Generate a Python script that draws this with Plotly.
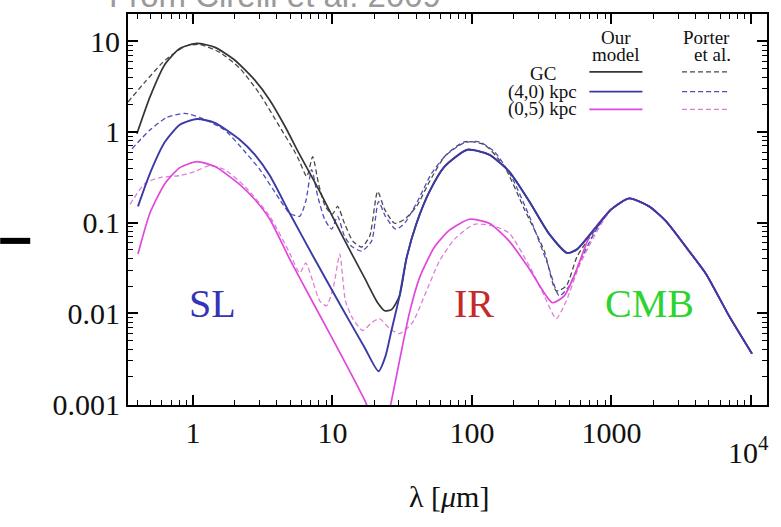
import plotly.graph_objects as go

# ---- wavelength grids (micron) and energy densities, model curves ----
gc_model_lam = [0.397, 0.492, 0.631, 0.807, 1.07, 1.44, 2.0, 2.78, 3.56, 4.55, 5.83, 8.11, 11.8, 17.0, 21.1, 23.7, 26.5, 30.3]
gc_model_val = [0.953, 2.42, 5.57, 8.34, 9.46, 8.55, 6.17, 3.72, 2.24, 1.17, 0.561, 0.221, 0.071, 0.0246, 0.0131, 0.0107, 0.011, 0.0156]

r40_model_lam = [0.404, 0.492, 0.631, 0.807, 1.07, 1.44, 2.17, 2.78, 3.56, 4.94, 7.46, 11.8, 17.0, 21.4, 24.0, 26.5, 30.3]
r40_model_val = [0.151, 0.348, 0.779, 1.20, 1.39, 1.26, 0.82, 0.561, 0.330, 0.127, 0.0397, 0.01126, 0.00421, 0.0023, 0.00336, 0.00646, 0.0156]

# infrared bump shared by the GC and (4,0) model curves
ir_model_lam = [34.0, 40.1, 49.7, 63.6, 92.9, 133, 185, 258, 359, 483, 569, 753]
ir_model_val = [0.0408, 0.0985, 0.221, 0.415, 0.637, 0.561, 0.366, 0.171, 0.0746, 0.0462, 0.0511, 0.0847]

z05_model_lam = [0.404, 0.492, 0.631, 0.807, 1.07, 1.44, 2.17, 2.78, 3.56, 4.94, 7.46, 11.8, 17.0, 20.1, 22.9, 25.7, 30.3, 35.7, 42.1, 53.9, 69.0, 96.0, 133, 185, 258, 377, 459, 541, 693, 753]
z05_model_val = [0.0451, 0.127, 0.270, 0.404, 0.470, 0.415, 0.263, 0.180, 0.109, 0.0397, 0.01214, 0.00327, 0.00111, 0.00059, 0.000403, 0.00086, 0.00303, 0.01018, 0.0246, 0.0538, 0.0826, 0.109, 0.0985, 0.0626, 0.0309, 0.0131, 0.0156, 0.0259, 0.07, 0.0847]

# ---- Porter et al. curves ----
gc_porter_lam = [0.343, 0.453, 0.631, 0.877, 1.12, 1.56, 2.17, 3.02, 4.19, 5.37, 5.83, 6.55, 7.22, 7.98, 8.9, 10.0, 10.9, 12.2, 14.0, 16.2, 18.5, 21.1, 23.7, 27.9, 32.9, 40.1, 49.7, 63.6, 88.4, 123, 171, 238, 330, 402, 475, 569, 753]
gc_porter_val = [2.14, 3.54, 6.17, 8.77, 9.22, 7.54, 5.03, 2.61, 1.14, 0.605, 0.470, 0.322, 0.534, 0.263, 0.151, 0.124, 0.151, 0.0985, 0.0626, 0.0538, 0.071, 0.221, 0.140, 0.0985, 0.109, 0.151, 0.284, 0.534, 0.779, 0.722, 0.415, 0.14, 0.0486, 0.0177, 0.0201, 0.0428, 0.0805]

r40_porter_lam = [0.366, 0.492, 0.652, 0.877, 1.12, 1.69, 2.36, 3.02, 4.19, 4.94, 5.83, 6.44, 7.1, 7.85, 8.8, 9.88, 10.9, 12.2, 13.7, 16.2, 19.1, 21.4, 24.0, 28.4, 32.9, 40.7, 51.3, 65.7, 88.4, 113, 145, 192, 258, 347, 423, 499, 588, 753]
r40_porter_val = [0.653, 1.05, 1.45, 1.60, 1.45, 1.05, 0.605, 0.385, 0.180, 0.127, 0.1175, 0.171, 0.385, 0.195, 0.109, 0.0847, 0.1175, 0.071, 0.0551, 0.0486, 0.0626, 0.171, 0.1175, 0.0847, 0.0985, 0.171, 0.348, 0.561, 0.760, 0.779, 0.605, 0.322, 0.1175, 0.0359, 0.0156, 0.0201, 0.0359, 0.0768]

z05_porter_lam = [0.354, 0.453, 0.581, 0.807, 1.03, 1.32, 1.69, 2.36, 3.56, 4.94, 5.83, 6.44, 7.22, 8.11, 9.1, 10.2, 11.3, 12.4, 14.0, 16.5, 19.1, 21.8, 25.7, 30.3, 37.5, 45.7, 58.5, 75.0, 104, 145, 185, 258, 330, 402, 475, 588, 753]
z05_porter_val = [0.159, 0.270, 0.314, 0.330, 0.366, 0.425, 0.385, 0.250, 0.1175, 0.0462, 0.0279, 0.0359, 0.0228, 0.01377, 0.01214, 0.0201, 0.0451, 0.01377, 0.00875, 0.00646, 0.00791, 0.00875, 0.0068, 0.00599, 0.00791, 0.0156, 0.0378, 0.0658, 0.096, 0.0913, 0.0766, 0.0333, 0.0156, 0.00875, 0.01377, 0.0333, 0.071]

# CMB black-body tail common to every curve
cmb_lam = [996, 1340, 1863, 2466, 3601, 4764, 6961, 10170]
cmb_val = [0.140, 0.185, 0.151, 0.1035, 0.0486, 0.0272, 0.0094, 0.0036]

x_ticks = [1, 10, 100, 1000, 10000]
x_ticktext = ["1", "10", "100", "1000", ""]
y_ticks = [0.001, 0.01, 0.1, 1, 10]
y_ticktext = ["0.001", "0.01", "0.1", "1", "10"]

SERIF = "Liberation Serif"

series = [
    # name, lam, val, colour, dash, width
    ("GC, Porter", gc_porter_lam + cmb_lam, gc_porter_val + cmb_val, "#4a4a4a", "5px,3px", 1.3),
    ("(4,0), Porter", r40_porter_lam + cmb_lam, r40_porter_val + cmb_val, "#4d4dbb", "5px,3px", 1.3),
    ("(0,5), Porter", z05_porter_lam + cmb_lam, z05_porter_val + cmb_val, "#dc80d6", "5px,3px", 1.3),
    ("GC, model", gc_model_lam + ir_model_lam + cmb_lam, gc_model_val + ir_model_val + cmb_val, "#353535", "solid", 1.7),
    ("(0,5), model", z05_model_lam + cmb_lam, z05_model_val + cmb_val, "#e048dc", "solid", 1.7),
    ("(4,0), model", r40_model_lam + ir_model_lam + cmb_lam, r40_model_val + ir_model_val + cmb_val, "#3a3aa6", "solid", 1.9),
]

fig = go.Figure()
for name, lam, val, col, dash, w in series:
    fig.add_trace(go.Scatter(
        x=lam, y=val, mode="lines", name=name, showlegend=False,
        line=dict(color=col, dash=dash, width=w, shape="spline", smoothing=0.6),
    ))

minor_x = [m * 10 ** e for e in range(-1, 5) for m in range(2, 10)]
minor_y = [m * 10 ** e for e in range(-3, 2) for m in range(2, 10)]

axis_common = dict(
    type="log", showline=True, linecolor="black", linewidth=2, mirror="allticks",
    ticks="inside", ticklen=10, tickwidth=1.5, tickcolor="black",
    showgrid=False, zeroline=False,
    tickfont=dict(family=SERIF, size=30, color="#111"),
)

fig.update_layout(
    width=781, height=527,
    margin=dict(l=128, r=13, t=12, b=122),
    paper_bgcolor="white", plot_bgcolor="white",
    xaxis=dict(axis_common, range=[-0.465, 4.115], tickmode="array",
               tickvals=x_ticks, ticktext=x_ticktext,
               minor=dict(tickmode="array", tickvals=minor_x, ticks="inside",
                          ticklen=5, tickwidth=1, tickcolor="black")),
    yaxis=dict(axis_common, range=[-3.01, 1.30], tickmode="array",
               tickvals=y_ticks, ticktext=y_ticktext,
               minor=dict(tickmode="array", tickvals=minor_y, ticks="inside",
                          ticklen=5, tickwidth=1, tickcolor="black")),
)

ann = []
# region labels
ann.append(dict(x=0.143, y=-1.894, xref="x", yref="y", text="SL",
                font=dict(family=SERIF, size=40, color="#3434b4")))
ann.append(dict(x=2.018, y=-1.894, xref="x", yref="y", text="IR",
                font=dict(family=SERIF, size=40, color="#c42a2a")))
ann.append(dict(x=3.27, y=-1.894, xref="x", yref="y", text="CMB",
                font=dict(family=SERIF, size=40, color="#2ed42e")))
# 10^4 tick label, set lower than the others
ann.append(dict(x=4, y=-0.114, xref="x", yref="paper", xshift=-2, text="10<sup>4</sup>",
                font=dict(family=SERIF, size=30, color="#111")))
# axis title
ann.append(dict(x=0.502, y=-0.234, xref="paper", yref="paper", text="λ [<i>μ</i>m]",
                font=dict(family=SERIF, size=30, color="#111")))

# legend table
lf = dict(family=SERIF, size=19, color="#111")
ann += [
    dict(x=0.764, y=0.941, text="Our", font=lf),
    dict(x=0.764, y=0.896, text="model", font=lf),
    dict(x=0.905, y=0.941, text="Porter", font=lf),
    dict(x=0.914, y=0.896, text="et al.", font=lf),
    dict(x=0.650, y=0.847, text="GC", font=lf),
    dict(x=0.706, y=0.800, text="(4,0) kpc", font=lf, xanchor="right"),
    dict(x=0.706, y=0.757, text="(0,5) kpc", font=lf, xanchor="right"),
]
for a in ann:
    a.setdefault("xref", "paper")
    a.setdefault("yref", "paper")
    a.setdefault("xanchor", "center")
    a.setdefault("yanchor", "middle")
    a["showarrow"] = False

# source note at the top, cut by the page edge
ann.append(dict(x=-0.033, y=0.995, xref="paper", yref="paper", xanchor="left", yanchor="bottom",
                text="From Cirelli et al. 2009", showarrow=False,
                font=dict(family="Liberation Sans", size=33, color="#9a9a9a")))
fig.update_layout(annotations=ann)

shapes = []
rows = [(0.852, "#353535", "#4a4a4a"), (0.8015, "#3a3aa6", "#4d4dbb"), (0.756, "#e048dc", "#dc80d6")]
for yy, c_model, c_porter in rows:
    shapes.append(dict(type="line", xref="paper", yref="paper", x0=0.722, x1=0.805, y0=yy, y1=yy,
                       line=dict(color=c_model, width=1.8)))
    shapes.append(dict(type="line", xref="paper", yref="paper", x0=0.867, x1=0.941, y0=yy, y1=yy,
                       line=dict(color=c_porter, width=1.4, dash="5px,3px")))
# short black bar at the left edge
shapes.append(dict(type="rect", xref="paper", yref="paper", x0=-0.2, x1=-0.153, y0=0.412, y1=0.4275,
                   fillcolor="black", line=dict(width=0)))
fig.update_layout(shapes=shapes)

fig.write_html("out.html")
